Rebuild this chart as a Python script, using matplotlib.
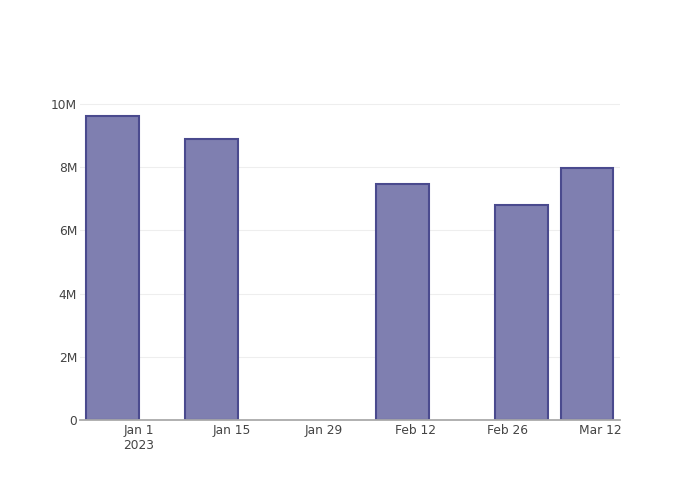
import matplotlib
matplotlib.use("Agg")
import matplotlib.pyplot as plt
import matplotlib.dates as mdates
from datetime import datetime

dates = ["2022-12-28", "2023-01-12", "2023-02-10", "2023-02-28", "2023-03-10"]
values = [9.62e6, 8.89e6, 7.46e6, 6.82e6, 7.97e6]
tick_dates = ["2023-01-01", "2023-01-15", "2023-01-29", "2023-02-12", "2023-02-26", "2023-03-12"]
tick_labels = ["Jan 1\n2023", "Jan 15", "Jan 29", "Feb 12", "Feb 26", "Mar 12"]
y_ticks = [0, 2e6, 4e6, 6e6, 8e6, 10e6]
y_labels = ["0", "2M", "4M", "6M", "8M", "10M"]

plt.rcParams['font.family'] = ['DejaVu Sans']
fig = plt.figure(figsize=(7, 5), dpi=100)
ax = fig.add_axes([80/700, 80/500, 540/700, 320/500])

x = [mdates.date2num(datetime.strptime(d, "%Y-%m-%d")) for d in dates]
ax.bar(x, values, width=8, color='#7f7fb0', edgecolor='#4a4a8e', linewidth=1.5, zorder=3)

x0 = mdates.date2num(datetime(2023, 1, 1))
ax.set_xlim(x0 - 8.96, x0 + 73.0)
ax.set_ylim(0, 10.13e6)

ax.set_xticks([mdates.date2num(datetime.strptime(d, "%Y-%m-%d")) for d in tick_dates])
ax.set_xticklabels(tick_labels)
ax.set_yticks(y_ticks)
ax.set_yticklabels(y_labels)

ax.tick_params(axis='both', length=0, labelsize=8.8, colors='#444444')
ax.tick_params(axis='x', pad=3)
ax.tick_params(axis='y', pad=2)
ax.grid(axis='y', color='#eeeeee', linewidth=0.8, zorder=0)
for s in ['top', 'right', 'left']:
    ax.spines[s].set_visible(False)
ax.spines['bottom'].set_color('#aaaaaa')
ax.spines['bottom'].set_linewidth(1.3)
ax.spines['bottom'].set_zorder(4)

fig.savefig("out.png", dpi=100)
